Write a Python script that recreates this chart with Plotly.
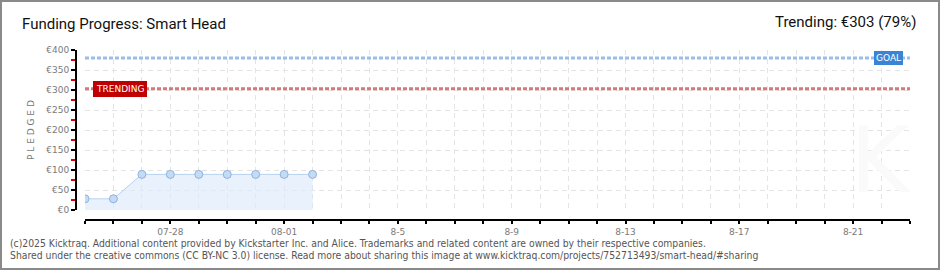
import plotly.graph_objects as go
import pandas as pd

# ---- data ----
dates = ["2025-07-25", "2025-07-26", "2025-07-27", "2025-07-28", "2025-07-29",
         "2025-07-30", "2025-07-31", "2025-08-01", "2025-08-02"]
pledged = [28, 28, 89, 89, 89, 89, 89, 89, 89]
goal = 380
trending = 303
trending_pct = 79
x_start, x_end = "2025-07-25", "2025-08-23"
label_dates = ["2025-07-28", "2025-08-01", "2025-08-05", "2025-08-09",
               "2025-08-13", "2025-08-17", "2025-08-21"]
label_texts = ["07-28", "08-01", "8-5", "8-9", "8-13", "8-17", "8-21"]
y_ticks = [0, 50, 100, 150, 200, 250, 300, 350, 400]
y_labels = ["€" + str(v) for v in y_ticks]

tick_days = [d.strftime("%Y-%m-%d") for d in pd.date_range(x_start, x_end)]
lab = dict(zip(label_dates, label_texts))
tick_text = [lab.get(d, "") for d in tick_days]

# ---- geometry (px) ----
W, H = 940, 270
L, R, T, B = 76, 30, 50, 50
PW, PH = W - L - R, H - T - B


def px(xp):
    return (xp - L) / PW


def py(yp):
    return (H - B - yp) / PH


fig = go.Figure()

# area + markers
fig.add_trace(go.Scatter(
    x=dates, y=pledged, mode="lines+markers", fill="tozeroy",
    fillcolor="rgba(221,234,250,0.65)",
    line=dict(color="#b7d2f0", width=1),
    marker=dict(size=8, color="#c4dbf5", line=dict(color="#8eb2dc", width=1)),
    hoverinfo="skip", showlegend=False))

# goal line
fig.add_trace(go.Scatter(
    x=[x_start, x_end], y=[goal, goal], mode="lines",
    line=dict(color="#9bbde6", width=3, dash="4px,2px"),
    hoverinfo="skip", showlegend=False))
# trending line
fig.add_trace(go.Scatter(
    x=[x_start, x_end], y=[trending, trending], mode="lines",
    line=dict(color="#d47a7a", width=3, dash="4px,2px"),
    hoverinfo="skip", showlegend=False))

tickfont = dict(family="DejaVu Sans", size=9, color="#7a7a7a")

fig.update_layout(
    width=W, height=H, margin=dict(l=L, r=R, t=T, b=B),
    paper_bgcolor="white", plot_bgcolor="white",
    xaxis=dict(
        type="date", range=[x_start, x_end], domain=[9 / PW, 1],
        anchor="free", position=0,
        tickmode="array", tickvals=tick_days, ticktext=tick_text,
        ticks="outside", ticklen=3, tickwidth=1.5, tickcolor="black",
        showline=True, linecolor="black", linewidth=2,
        showgrid=True, gridcolor="#e4e4e4", griddash="5px,4px", gridwidth=1,
        zeroline=False, tickfont=tickfont, fixedrange=True,
    ),
    xaxis2=dict(
        type="date", range=[x_start, x_end], overlaying="x",
        anchor="free", position=0,
        tickmode="array", tickvals=tick_days, ticktext=["" for _ in tick_days],
        ticks="inside", ticklen=3, tickwidth=1.5, tickcolor="black",
        showline=False, showgrid=False, zeroline=False, showticklabels=False,
    ),
    yaxis=dict(
        range=[0, 400], domain=[10 / PH, 1],
        anchor="free", position=0,
        tickmode="array", tickvals=y_ticks, ticktext=y_labels,
        ticks="outside", ticklen=4, tickwidth=1.5, tickcolor="black",
        minor=dict(ticks="outside", ticklen=4, tickcolor="#e00000", dtick=25,
                   tick0=25, tickwidth=1.5, showgrid=False),
        showline=True, linecolor="black", linewidth=2,
        showgrid=True, gridcolor="#e4e4e4", griddash="5px,4px", gridwidth=1,
        zeroline=False, tickfont=tickfont, fixedrange=True,
    ),
    yaxis2=dict(
        range=[0, 400], overlaying="y", anchor="free", position=0, side="left",
        tickmode="array", tickvals=y_ticks, ticktext=["" for _ in y_ticks],
        ticks="inside", ticklen=2, tickwidth=1.5, tickcolor="black",
        showline=False, showgrid=False, zeroline=False, showticklabels=False,
    ),
)

annotations = [
    dict(text="Funding Progress: Smart Head", xref="paper", yref="paper",
         x=px(20), y=py(24), xanchor="left", yanchor="middle", showarrow=False,
         font=dict(family="Roboto", size=15, color="#111")),
    dict(text=f"Trending: €{trending} ({trending_pct}%)", xref="paper", yref="paper",
         x=px(918), y=py(22), xanchor="right", yanchor="middle", showarrow=False,
         font=dict(family="Roboto", size=15, color="#111")),
    dict(text="P L E D G E D", xref="paper", yref="paper", x=px(31), y=py(130),
         textangle=-90, showarrow=False, xanchor="center", yanchor="middle",
         font=dict(family="DejaVu Sans", size=9, color="#777")),
    dict(text="GOAL", xref="paper", yref="y", x=px(888), y=goal,
         xanchor="center", yanchor="middle",
         showarrow=False, bgcolor="#3a84d6", bordercolor="#3a84d6", borderpad=1,
         font=dict(family="DejaVu Sans", size=9, color="white")),
    dict(text="TRENDING", xref="paper", yref="y", x=px(120), y=trending,
         xanchor="center", yanchor="middle",
         showarrow=False, bgcolor="#c00000", bordercolor="#c00000", borderpad=2,
         font=dict(family="DejaVu Sans", size=9, color="white")),
    dict(text="K", xref="paper", yref="paper", x=px(880), y=py(160),
         xanchor="center", yanchor="middle",
         showarrow=False, font=dict(family="DejaVu Sans", size=90, color="#fafafa")),
    dict(text="(c)2025 Kicktraq. Additional content provided by Kickstarter Inc. and Alice. "
              "Trademarks and related content are owned by their respective companies.",
         xref="paper", yref="paper", x=px(8), y=py(243), xanchor="left", yanchor="middle",
         showarrow=False, font=dict(family="DejaVu Sans Condensed", size=10.3, color="#555")),
    dict(text="Shared under the creative commons (CC BY-NC 3.0) license. Read more about sharing "
              "this image at www.kicktraq.com/projects/752713493/smart-head/#sharing",
         xref="paper", yref="paper", x=px(8), y=py(255), xanchor="left", yanchor="middle",
         showarrow=False, font=dict(family="DejaVu Sans Condensed", size=10.3, color="#555")),
]
fig.update_layout(annotations=annotations)

fig.add_shape(type="rect", xref="paper", yref="paper",
              x0=px(1), x1=px(939), y0=py(269), y1=py(1),
              line=dict(color="#8a8a8a", width=2), fillcolor="rgba(0,0,0,0)", layer="below")

fig.write_html("out.html")
